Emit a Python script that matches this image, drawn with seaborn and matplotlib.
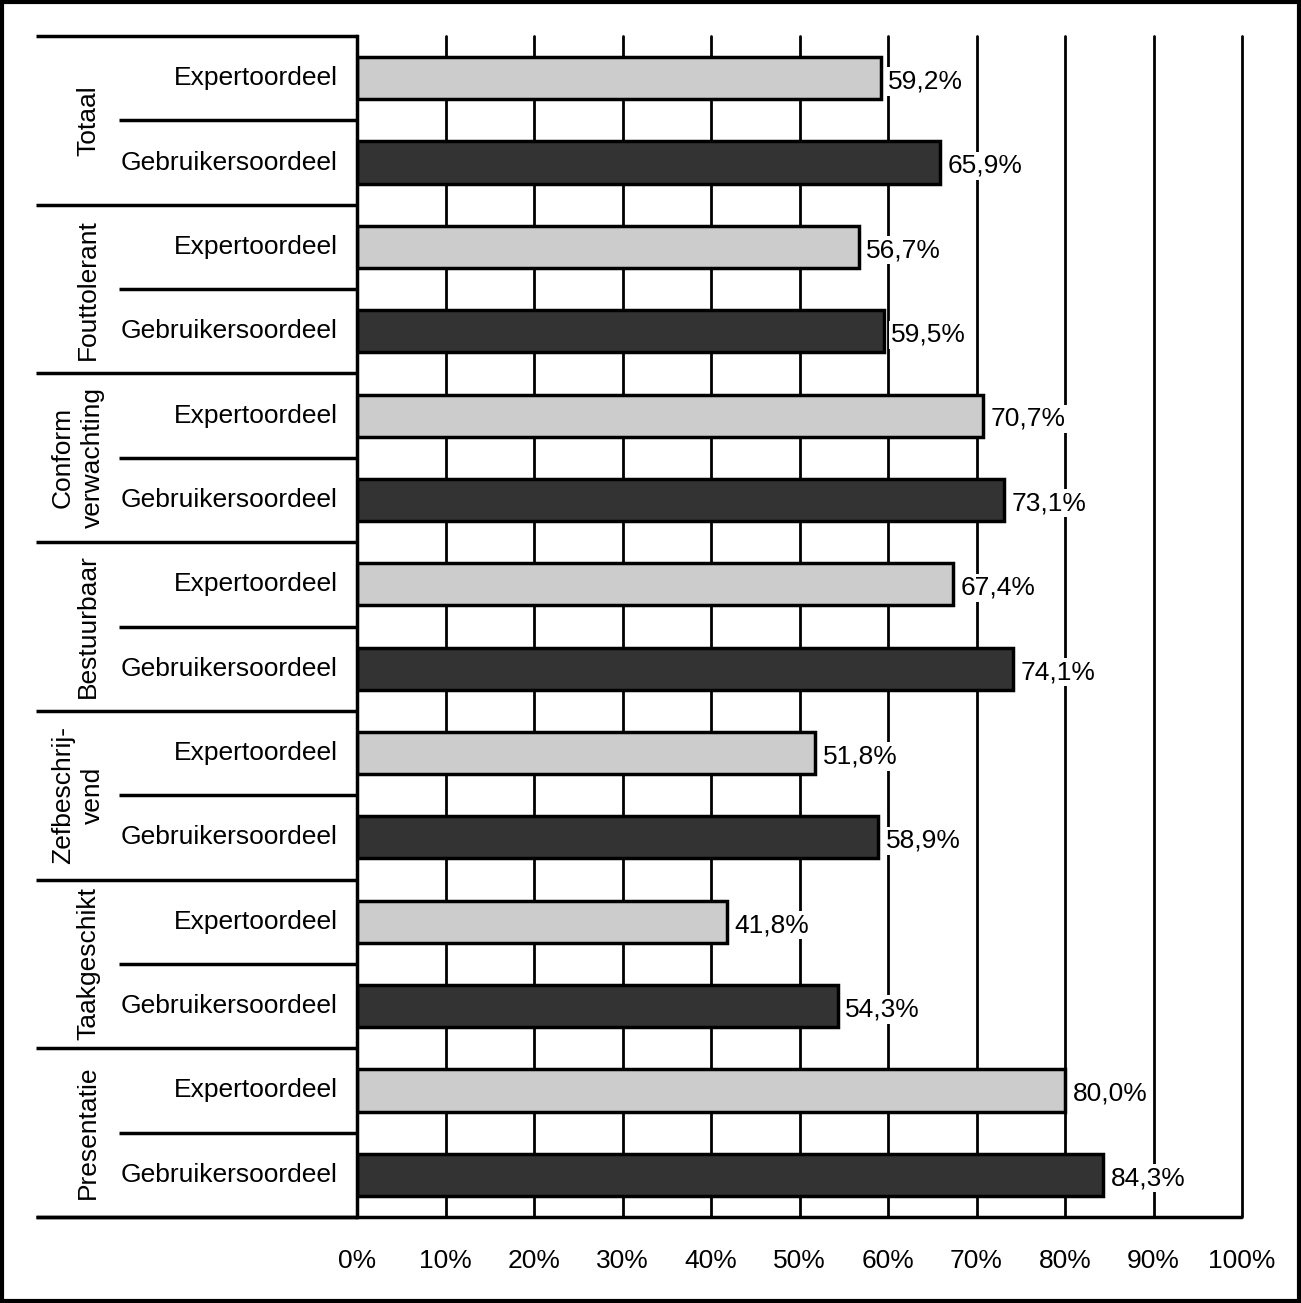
import numpy as np
import pandas as pd
import seaborn as sns
import matplotlib.pyplot as plt
import matplotlib.transforms as mtransforms
from matplotlib.patches import Rectangle

groups = ["Totaal", "Fouttolerant", "Conform\nverwachting", "Bestuurbaar",
          "Zefbeschrij-\nvend", "Taakgeschikt", "Presentatie"]
kinds = ["Expertoordeel", "Gebruikersoordeel"]
expert = [59.2, 56.7, 70.7, 67.4, 51.8, 41.8, 80.0]
gebruiker = [65.9, 59.5, 73.1, 74.1, 58.9, 54.3, 84.3]
ticks = [0, 10, 20, 30, 40, 50, 60, 70, 80, 90, 100]

rows = []
for i, g in enumerate(groups):
    rows.append({"row": str(2 * i), "soort": kinds[0], "waarde": expert[i]})
    rows.append({"row": str(2 * i + 1), "soort": kinds[1], "waarde": gebruiker[i]})
df = pd.DataFrame(rows)

sns.set_style("white")
plt.rcParams["font.family"] = ["Liberation Sans", "DejaVu Sans"]
plt.rcParams["text.color"] = "black"
plt.rcParams["xtick.color"] = "black"

FS = 19
W, H = 1301, 1303
fig = plt.figure(figsize=(W / 100, H / 100), dpi=100)
x0, x1, y0, y1 = 357, 1242, 36, 1217
ax = fig.add_axes([x0 / W, (H - y1) / H, (x1 - x0) / W, (y1 - y0) / H])

# gridlines below bars
for t in ticks[1:]:
    ax.axvline(t, color="black", lw=2, zorder=0, clip_on=False)

sns.barplot(data=df, y="row", x="waarde", hue="soort", dodge=False,
            palette={kinds[0]: "#cccccc", kinds[1]: "#333333"},
            edgecolor="black", linewidth=2.5, width=0.5, orient="h",
            legend=False, ax=ax, zorder=2)

ax.set_xlim(0, 100)
ax.set_ylim(13.5, -0.5)
ax.set_xlabel("")
ax.set_ylabel("")
ax.set_yticks([])
ax.set_xticks(ticks)
ax.set_xticklabels([f"{t}%" for t in ticks], fontsize=FS)
ax.tick_params(axis="x", direction="out", length=14, width=2.5, pad=9,
               colors="black", labelcolor="black")
for s in ["top", "right", "bottom"]:
    ax.spines[s].set_visible(False)
ax.spines["left"].set_linewidth(2.5)
ax.spines["left"].set_color("black")

# value labels
vals = df["waarde"].tolist()
for i, v in enumerate(vals):
    ax.text(v + 0.85, i + 0.04, f"{v:.1f}%".replace(".", ","), va="center", ha="left",
            fontsize=FS, zorder=3, color="black",
            bbox=dict(facecolor="white", edgecolor="none", pad=1.5))

# left label area
tr = mtransforms.blended_transform_factory(ax.transAxes, ax.transData)
gx = (36 - x0) / (x1 - x0)
sx = (119 - x0) / (x1 - x0)
lx = (338 - x0) / (x1 - x0)
cx = (88 - x0) / (x1 - x0)
cx2 = (78 - x0) / (x1 - x0)
for i in range(len(groups) + 1):
    ax.plot([gx, 0], [2 * i - 0.5, 2 * i - 0.5], color="black", lw=2.5,
            transform=tr, clip_on=False, solid_capstyle="butt")
for i in range(len(groups)):
    ax.plot([sx, 0], [2 * i + 0.5, 2 * i + 0.5], color="black", lw=2.5,
            transform=tr, clip_on=False, solid_capstyle="butt")
    ax.text(lx, 2 * i, kinds[0], ha="right", va="center", fontsize=FS,
            transform=tr, color="black")
    ax.text(lx, 2 * i + 1, kinds[1], ha="right", va="center", fontsize=FS,
            transform=tr, color="black")
    ax.text(cx if "\n" not in groups[i] else cx2,
            2 * i + 0.5, groups[i], ha="center", va="center", rotation=90,
            fontsize=FS, transform=tr, linespacing=1.35, color="black")
ax.plot([gx, 1], [13.5, 13.5], color="black", lw=2.5, transform=tr,
        clip_on=False, solid_capstyle="butt")

# figure border
fig.patches.append(Rectangle((0.0015, 0.0015), 0.997, 0.997, transform=fig.transFigure,
                             fill=False, edgecolor="black", linewidth=3))

fig.savefig("out.png", dpi=100, facecolor="white")
